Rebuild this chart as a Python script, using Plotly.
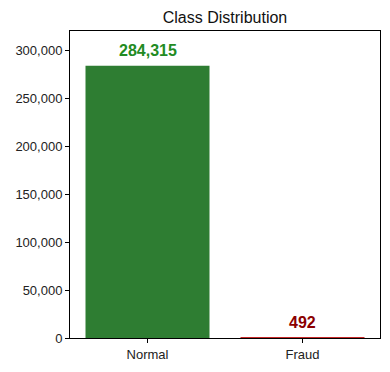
import plotly.graph_objects as go

categories = ["Normal", "Fraud"]
counts = [284315, 492]
bar_colors = ["#2e7d32", "#c62828"]
label_colors = ["#228b22", "#8b0000"]
y_ticks = [0, 50000, 100000, 150000, 200000, 250000, 300000]

fig = go.Figure()
fig.add_trace(go.Bar(
    x=categories, y=counts, width=0.8,
    marker=dict(color=bar_colors, line=dict(width=0)),
    hoverinfo="x+y",
))
for c, v, col in zip(categories, counts, label_colors):
    fig.add_annotation(
        x=c, y=v, text=f"<b>{v:,}</b>", showarrow=False,
        yanchor="bottom", yshift=5,
        font=dict(family="Liberation Sans, Arial, sans-serif", size=16, color=col),
    )

fig.update_layout(
    width=390, height=372,
    margin=dict(l=70, r=10, t=31, b=34),
    paper_bgcolor="white", plot_bgcolor="white",
    font=dict(family="Liberation Sans, Arial, sans-serif", size=13, color="#222"),
    title=dict(text="Class Distribution", x=(70 + 380) / 2 / 390, xanchor="center",
               y=1 - 17 / 372, yanchor="middle",
               font=dict(size=16, color="#111")),
    showlegend=False,
    bargap=0.2,
)
fig.update_xaxes(
    range=[-0.5, 1.5], showgrid=False, showline=True, mirror=True,
    linecolor="black", linewidth=1, ticks="outside", ticklen=4,
    tickcolor="black", tickfont=dict(size=13, color="#222"),
)
fig.update_yaxes(
    range=[0, 320500], tickvals=y_ticks,
    ticktext=[f"{t:,}" for t in y_ticks],
    showgrid=False, showline=True, mirror=True, zeroline=False,
    linecolor="black", linewidth=1, ticks="outside", ticklen=4,
    tickcolor="black", tickfont=dict(size=13, color="#222"),
)
fig.write_html("out.html")
